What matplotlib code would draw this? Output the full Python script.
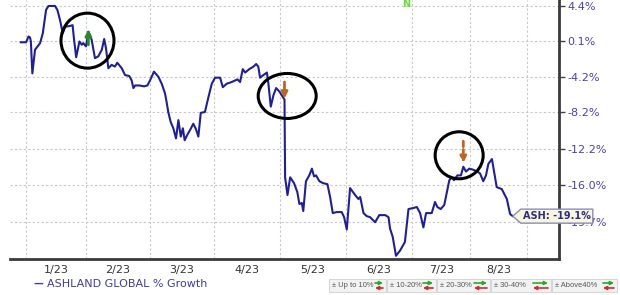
import numpy as np
import matplotlib
matplotlib.use('Agg')
import matplotlib.pyplot as plt
from matplotlib.patches import Ellipse, Polygon, Rectangle, FancyArrowPatch
from matplotlib.transforms import ScaledTranslation

# trading day index (from first point) and % growth
days = [0, 1.8, 2.6, 3.1, 3.4, 3.9, 4.8, 6.5, 7.4, 8.5, 9.3, 11.5, 12.3, 13.2, 14.1, 14.9,
        16.5, 17.4, 17.9, 18.6, 19.7, 20.5, 21.0, 21.9, 22.7, 23.8, 24.9, 26.0, 27.2, 28.0,
        28.6, 29.4, 30.5, 31.6, 32.4, 33.9, 35.0, 36.4, 37.2, 37.8, 38.4, 39.8, 41.4, 42.5,
        43.4, 44.7, 46.2, 47.3, 48.4, 49.0, 49.5, 50.3, 51.2, 52.1, 52.9, 53.7, 54.4, 55.0,
        55.9, 56.8, 57.9, 58.8, 59.6, 60.4, 61.8, 63.0, 64.1, 65.2, 66.9, 67.8, 69.1, 70.8,
        72.7, 73.6, 74.5, 75.3, 76.7, 78.1, 79.0, 79.7, 80.3, 81.4, 82.6, 83.1, 83.9, 84.8,
        85.7, 86.8, 87.9, 88.5, 88.7, 89.5, 90.4, 91.7, 92.8, 93.5, 94.3, 94.8, 95.7, 96.8,
        97.7, 98.4, 99.1, 100.2, 101.5, 102.9, 103.8, 104.7, 106.0, 107.7, 108.5, 109.4,
        110.5, 112.2, 113.3, 113.9, 115.0, 116.1, 117.2, 118.9, 120.3, 122.3, 123.4, 123.9,
        124.8, 125.9, 127.3, 128.9, 130.1, 131.7, 132.9, 134.0, 135.1, 136.0, 137.9, 139.0,
        139.8, 140.9, 142.1, 143.0, 143.8, 144.6, 145.4, 146.5, 147.7, 148.5, 149.4, 150.5,
        151.7, 153.2, 154.1, 155.2, 156.1, 156.9, 158.1, 159.2, 159.7, 161.4, 163.1, 164.2,
        165.1]
growth = [-0.1, -0.1, 0.6, 0.5, 0.0, -3.8, -1.0, -0.2, 1.0, 3.9, 4.4, 4.4, 3.9, 2.6, 1.0, 1.8,
          1.9, 2.0, 0.2, -1.9, 0.0, -0.4, -0.2, -0.6, 1.2, 0.2, -2.0, -1.8, -1.0, 0.3,
          -0.8, -3.2, -2.8, -3.0, -2.55, -3.2, -4.0, -4.1, -4.6, -5.5, -5.2, -5.2, -5.3, -5.2,
          -4.6, -3.6, -4.2, -5.0, -6.1, -7.2, -8.2, -9.3, -10.0, -11.1, -9.1, -10.9, -10.0, -11.3,
          -10.7, -10.2, -9.5, -10.1, -10.9, -8.3, -8.2, -6.5, -5.0, -4.3, -4.3, -5.4, -5.0, -4.8,
          -4.5, -4.8, -3.3, -3.7, -3.3, -3.0, -2.7, -3.0, -4.3, -4.0, -3.7, -5.0, -7.6, -6.3,
          -5.5, -5.9, -6.5, -6.8, -15.2, -17.0, -15.2, -15.8, -16.7, -17.9, -17.8, -18.6, -15.6, -15.0,
          -14.3, -15.1, -15.0, -15.6, -15.8, -15.9, -17.2, -18.8, -18.7, -18.7, -19.2, -20.4,
          -16.3, -17.0, -17.4, -17.2, -18.8, -19.1, -19.2, -19.7, -19.0, -19.0, -19.2, -20.3,
          -21.1, -22.9, -22.4, -21.6, -18.4, -18.3, -18.2, -18.8, -20.2, -18.8, -18.8, -17.7,
          -18.2, -18.4, -18.0, -16.7, -15.5, -15.2, -15.5, -15.0, -15.0, -14.1, -14.6, -14.3,
          -14.4, -14.6, -14.8, -15.6, -15.0, -13.8, -13.3, -15.3, -16.2, -16.4, -17.4, -18.9,
          -19.1]

month_edges = [1.8, 21.9, 43.4, 64.9, 87.0, 109.2, 131.3, 150.8, 169.9]
month_labels = ['1/23', '2/23', '3/23', '4/23', '5/23', '6/23', '7/23', '8/23']
y_ticks = [4.4, 0.1, -4.2, -8.2, -12.2, -16.0, -19.7]

# signal markers: (day, growth) of the circled spots
circles = [(22.4, 0.1), (89.4, -6.4), (147.1, -12.9)]
last_label = 'ASH: -19.1%'

fig = plt.figure(figsize=(6.2, 2.95), dpi=100)
ax = fig.add_axes([10/620, 36/295, 549/620, 259/295])

fwd = lambda p: np.log1p(np.asarray(p) / 100.0)
inv = lambda v: (np.expm1(np.asarray(v))) * 100.0
ax.set_yscale('function', functions=(fwd, inv))

ax.plot(days, growth, color='#1f1f9e', lw=1.5, zorder=3)

ax.set_xlim(-3.6, 180.6)
ax.set_ylim(-23.2, 5.16)

# y axis on the right
ax.yaxis.tick_right()
ax.set_yticks(y_ticks)
ax.set_yticklabels(['%.1f%%' % v for v in y_ticks])
ax.yaxis.set_minor_locator(plt.NullLocator())
ax.tick_params(axis='y', which='major', length=4, width=1, color='#444444',
               labelcolor='#4a3fbf', labelsize=8, pad=2)

ax.set_xticks(month_edges)
ax.set_xticklabels([])
mids = [(month_edges[i] + month_edges[i+1]) / 2 for i in range(len(month_labels))]
ax.set_xticks(mids, minor=True)
ax.set_xticklabels(month_labels, minor=True)
ax.tick_params(axis='x', which='both', length=0)
ax.tick_params(axis='x', which='minor', labelsize=8, labelcolor='#333333', pad=4)

ax.grid(axis='y', which='major', color='#c8c8c8', lw=0.8, ls=(0, (2, 2)))
ax.grid(axis='x', which='major', color='#c8c8c8', lw=0.8, ls=(0, (2, 2)))

for s in ['left', 'top']:
    ax.spines[s].set_visible(False)
ax.spines['right'].set_color('#3a3a3a')
ax.spines['right'].set_linewidth(2)
ax.spines['bottom'].set_color('#3a3a3a')
ax.spines['bottom'].set_linewidth(2)

# black circles around signals
sizes = [(0.53, 0.55), (0.58, 0.45), (0.48, 0.47)]
for (cx, cy), (w, h) in zip(circles, sizes):
    tr = fig.dpi_scale_trans + ScaledTranslation(cx, cy, ax.transData)
    ax.add_patch(Ellipse((0, 0), w, h, transform=tr, fill=False, ec='black',
                         lw=2.2, zorder=6, clip_on=False))

# signal arrows
ax.annotate('', xy=(22.7, 1.5), xytext=(22.7, -0.4),
            arrowprops=dict(arrowstyle='-|>', color='#2a8a2a', lw=2, mutation_scale=9,
                            shrinkA=0, shrinkB=0), zorder=5)
ax.annotate('', xy=(88.5, -6.7), xytext=(88.5, -4.8),
            arrowprops=dict(arrowstyle='-|>', color='#c0641e', lw=2, mutation_scale=9,
                            shrinkA=0, shrinkB=0), zorder=5)
ax.annotate('', xy=(148.5, -13.7), xytext=(148.5, -11.4),
            arrowprops=dict(arrowstyle='-|>', color='#c0641e', lw=2, mutation_scale=9,
                            ls=(0, (2, 1)), shrinkA=0, shrinkB=0), zorder=5)

fig.text(406/620, 1 - 4/295, 'N', color='#66dd33', fontsize=7, fontweight='bold',
         ha='center', va='center')

# last value tag, drawn on the figure so it sits above the tick labels
lx, ly = days[-1], growth[-1]
tr = fig.dpi_scale_trans + ScaledTranslation(lx, ly, ax.transData)
tag = [(0, 0), (0.08, -0.07), (0.80, -0.07), (0.80, 0.07), (0.08, 0.07)]
fig.add_artist(Polygon(tag, closed=True, transform=tr, fc='#f7f5df', ec='#8c8cb4',
                       lw=1, zorder=7))
tr2 = ax.transData + ScaledTranslation(0.44, 0, fig.dpi_scale_trans)
fig.add_artist(plt.Text(lx, ly, last_label, transform=tr2, ha='center', va='center',
                        fontsize=7, fontweight='bold', color='#2e2e80', zorder=8))

# legend
fig.text(33/620, 1 - 284/295, '\u2014', color='#3c3cb4', fontsize=7, va='center',
         fontweight='bold')
fig.text(47/620, 1 - 284/295, 'ASHLAND GLOBAL % Growth', color='#3c3cb4', fontsize=8,
         va='center')

box_labels = ['\u00b1 Up to 10%', '\u00b1 10-20%', '\u00b1 20-30%', '\u00b1 30-40%',
              '\u00b1 Above40%']
box_edges = [329, 387, 437, 491, 552, 618]
arrow_len = [8, 10, 13, 15, 11]
arrow_ls = ['-', '-', (0, (2, 0.8)), (0, (1, 0.8)), '-']
for i, lab in enumerate(box_labels):
    x0, x1 = box_edges[i], box_edges[i+1]
    fig.add_artist(Rectangle((x0/620, 3/295), (x1 - x0 - 1)/620, 13/295,
                             transform=fig.transFigure, fc='#f2f2f2', ec='#d0d0d0',
                             lw=0.6, zorder=1))
    fig.text((x0 + 3)/620, 1 - 285.5/295, lab, fontsize=5.4, color='#555555', va='center',
             family='Liberation Sans', zorder=3)
    a1 = x1 - 4
    a0 = a1 - arrow_len[i]
    fig.add_artist(FancyArrowPatch((a0/620, 1 - 283/295), (a1/620, 1 - 283/295),
                                   transform=fig.transFigure, arrowstyle='-|>',
                                   mutation_scale=5, color='#22aa22', lw=1.2,
                                   ls=arrow_ls[i], shrinkA=0, shrinkB=0, zorder=3))
    fig.add_artist(FancyArrowPatch((a1/620, 1 - 288/295), (a0/620, 1 - 288/295),
                                   transform=fig.transFigure, arrowstyle='-|>',
                                   mutation_scale=5, color='#dd2222', lw=1.2,
                                   ls=arrow_ls[i], shrinkA=0, shrinkB=0, zorder=3))

fig.savefig('out.png', dpi=100)
